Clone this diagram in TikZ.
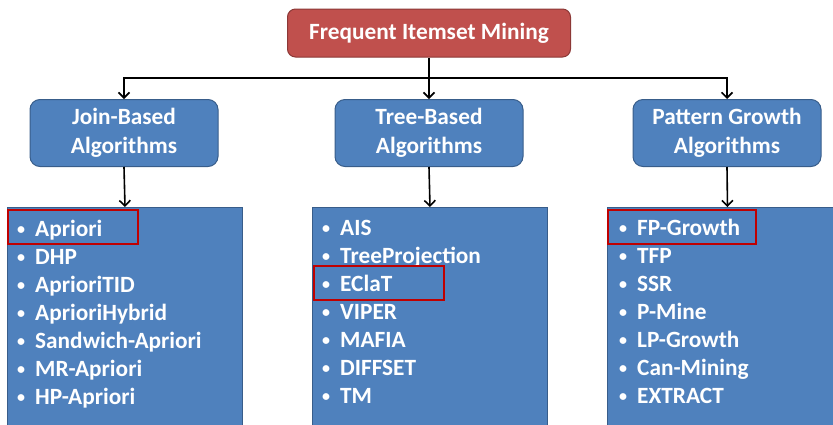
\documentclass[tikz,border=0pt]{standalone}
\usepackage{fontspec}
\setmainfont{Carlito}
\usetikzlibrary{arrows.meta}
\definecolor{blueF}{HTML}{4F81BD}
\definecolor{blueD}{HTML}{385D8A}
\definecolor{redF}{HTML}{C0504D}
\definecolor{redD}{HTML}{8C3836}
\definecolor{hlred}{HTML}{C00000}
\begin{document}
\begin{tikzpicture}[x=1pt,y=-1pt,
 txt/.style={text=white,font=\fontsize{23.3}{28.5}\selectfont\bfseries},
 topbox/.style={txt, fill=redF, draw=redD, line width=1pt, rounded corners=8pt, minimum width=283pt, minimum height=48pt},
 catbox/.style={txt, fill=blueF, draw=blueD, line width=1pt, rounded corners=10pt, minimum width=188pt, minimum height=67pt, align=center},
 listbox/.style={fill=blueF, draw=blueD, line width=1pt, anchor=north west, minimum height=230pt, inner sep=0pt},
 item/.style={txt, anchor=base west, inner sep=0pt},
 bul/.style={text=white, font=\fontsize{16}{16}\selectfont\bfseries, anchor=base, inner sep=0pt},
 hl/.style={draw=hlred, line width=2pt, anchor=north west, inner sep=0pt, minimum height=34pt},
 conn/.style={line width=1.6pt, draw=black},
 arr/.style={conn, -{Straight Barb[length=5.5pt,width=11pt,line width=1.6pt]}}
]
\useasboundingbox (0,0) rectangle (833,424);
% boxes
\node[topbox] (top) at (429,33) {Frequent Itemset Mining};
\node[catbox] (join) at (124,133) {Join-Based\\Algorithms};
\node[catbox] (tree) at (429,133) {Tree-Based\\Algorithms};
\node[catbox] (pat) at (727,133) {Pattern Growth\\Algorithms};
\node[listbox, minimum width=235pt] (ljoin) at (7,207) {};
\node[listbox, minimum width=235pt] (ltree) at (312,207) {};
\node[listbox, minimum width=240pt] (lpat) at (607,207) {};
% connectors
\coordinate (split) at (429,78);
\draw[arr] (top.south) -- (tree.north);
\draw[arr] (split) -| (join.north);
\draw[arr] (split) -| (pat.north);
\draw[arr] (join.south) -- (ljoin.north);
\draw[arr] (tree.south) -- (ltree.north);
\draw[arr] (pat.south) -- (lpat.north);
% list items
\foreach \t [count=\i] in {Apriori,DHP,AprioriTID,AprioriHybrid,Sandwich-Apriori,MR-Apriori,HP-Apriori}{
  \node[bul] (jb\i) at (21,{234+28*(\i-1)}) {•};
  \node[item] (ji\i) at (35,{236+28*(\i-1)}) {\t};
}
\foreach \t [count=\i] in {AIS,TreeProjection,EClaT,VIPER,MAFIA,DIFFSET,TM}{
  \node[bul] (tb\i) at (326,{233+28*(\i-1)}) {•};
  \node[item] (ti\i) at (340,{235+28*(\i-1)}) {\t};
}
\foreach \t [count=\i] in {FP-Growth,TFP,SSR,P-Mine,LP-Growth,Can-Mining,EXTRACT}{
  \node[bul] (pb\i) at (623,{233+28*(\i-1)}) {•};
  \node[item] (pi\i) at (637,{235+28*(\i-1)}) {\t};
}
% highlights
\node[hl, minimum width=130pt] (h1) at (7,209) {};
\node[hl, minimum width=130pt] (h2) at (313,265) {};
\node[hl, minimum width=148pt] (h3) at (607,209) {};
\end{tikzpicture}
\end{document}
